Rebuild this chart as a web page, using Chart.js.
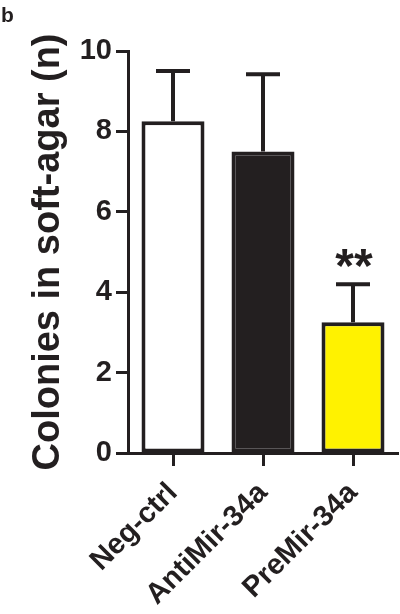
<!DOCTYPE html>
<html>
<head>
<meta charset="utf-8">
<script src="https://cdn.jsdelivr.net/npm/chart.js@4.4.1/dist/chart.umd.min.js"></script>
<style>
  html, body { margin: 0; padding: 0; background: #fff; }
  #wrap { width: 400px; height: 614px; position: relative; }
</style>
</head>
<body>
<div id="wrap"><canvas id="chart"></canvas></div>
<script>
const categories = ["Neg-ctrl", "AntiMir-34a", "PreMir-34a"];
const colonies = [8.25, 7.5, 3.25];
const sem = [1.25, 1.92, 0.95];
const stars = ["", "", "**"];
const yTicks = [0, 2, 4, 6, 8, 10];

const INK = "#231f20";
const FONT = "'Liberation Sans', Arial, Helvetica, sans-serif";

// upper error bars, significance marks and the panel letter
const extras = {
  id: "extras",
  afterDatasetsDraw(chart) {
    const { ctx, scales } = chart;
    const x = scales.x;
    const y = scales.y;
    ctx.save();
    ctx.strokeStyle = INK;
    ctx.lineWidth = 4;
    ctx.lineCap = "butt";
    colonies.forEach((v, i) => {
      const cx = x.getPixelForValue(i);
      const top = y.getPixelForValue(v + sem[i]);
      const base = y.getPixelForValue(v);
      ctx.beginPath();
      ctx.moveTo(cx, base);
      ctx.lineTo(cx, top);
      ctx.moveTo(cx - 17, top);
      ctx.lineTo(cx + 17, top);
      ctx.stroke();
      if (stars[i]) {
        ctx.fillStyle = INK;
        ctx.font = "bold 48px " + FONT;
        ctx.textAlign = "center";
        ctx.textBaseline = "alphabetic";
        ctx.fillText(stars[i], cx + 1, top - 2);
      }
    });
    ctx.fillStyle = INK;
    ctx.font = "bold 21px " + FONT;
    ctx.textAlign = "left";
    ctx.textBaseline = "alphabetic";
    ctx.fillText("b", 1, 22);
    ctx.restore();
  },
};

new Chart(document.getElementById("chart"), {
  type: "bar",
  data: {
    labels: categories,
    datasets: [
      {
        data: colonies,
        backgroundColor: ["#ffffff", INK, "#fff200"],
        borderColor: INK,
        borderWidth: 4,
        borderSkipped: false,
        barPercentage: 0.7,
        categoryPercentage: 1,
      },
    ],
  },
  options: {
    responsive: true,
    maintainAspectRatio: false,
    animation: false,
    layout: { padding: { top: 51, right: 2, left: 0, bottom: 0 } },
    plugins: { legend: { display: false }, tooltip: { enabled: false } },
    scales: {
      x: {
        afterFit(scale) {
          scale.height = 161;
        },
        border: { color: INK, width: 3 },
        grid: {
          offset: false,
          drawOnChartArea: false,
          color: INK,
          tickLength: 13,
          tickWidth: 3,
        },
        ticks: {
          color: INK,
          font: { family: FONT, size: 29, weight: "bold" },
          minRotation: 45,
          maxRotation: 45,
          padding: 10,
        },
      },
      y: {
        min: 0,
        max: 10,
        afterBuildTicks(scale) {
          scale.ticks = yTicks.map((v) => ({ value: v }));
        },
        afterFit(scale) {
          scale.width = 128;
        },
        border: { color: INK, width: 3 },
        grid: {
          drawOnChartArea: false,
          color: INK,
          tickLength: 12,
          tickWidth: 3,
        },
        ticks: {
          color: INK,
          font: { family: FONT, size: 29, weight: "bold" },
          padding: 4,
        },
        title: {
          display: true,
          text: "Colonies in soft-agar (n)",
          color: INK,
          font: { family: FONT, size: 38, weight: "bold", lineHeight: 1 },
          padding: { top: 30, bottom: 0 },
        },
      },
    },
  },
  plugins: [extras],
});
</script>
</body>
</html>
